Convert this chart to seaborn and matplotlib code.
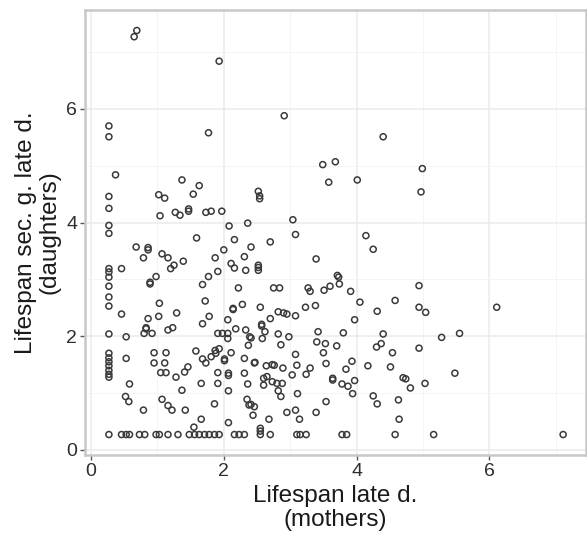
import numpy as np
import pandas as pd
import matplotlib
matplotlib.use("Agg")
import matplotlib.pyplot as plt
from matplotlib.ticker import MultipleLocator
import seaborn as sns

# Lifespan after late death: mothers (x) vs. daughters (y)
mothers = [
    0.65, 0.69, 1.93, 0.27, 0.27, 1.77, 2.91, 4.40, 3.49, 3.68,
    4.99, 4.97, 4.94, 4.94, 5.04, 6.11, 5.28, 5.55, 4.94, 5.48,
    5.03, 5.16, 7.11,
    0.37, 1.37, 1.63, 1.54, 0.27, 1.02, 1.11, 0.27, 1.04, 1.27,
    1.34, 1.47, 1.47, 1.73, 1.81, 1.97, 2.36, 0.27, 0.27, 2.08,
    1.59, 2.16, 0.68, 0.86, 0.86, 2.41, 2.00, 0.79, 1.07, 1.16,
    1.87, 2.31, 1.39, 1.25, 1.20, 2.11, 2.16, 2.33, 0.27, 0.27,
    0.27, 0.46, 1.91, 1.77, 0.98, 0.89, 0.89, 1.68, 0.27, 2.22,
    0.27, 1.72, 0.27, 2.28, 2.14, 2.14, 1.03, 0.46, 0.86, 1.02,
    1.29, 1.78, 2.06,
    3.58, 4.01, 2.52, 2.54, 2.54, 3.04, 3.08, 4.14, 2.70, 4.25,
    3.39, 2.52, 2.52, 2.52, 3.71, 3.73, 3.74, 3.60, 2.75, 2.84,
    3.27, 3.30, 3.51, 3.91, 4.05, 4.58, 2.55, 3.23, 3.38, 4.31,
    2.82, 2.90, 2.95, 3.08, 2.70, 3.97,
    1.68, 2.18, 2.33, 0.83, 0.83, 0.80, 0.92, 1.16, 1.23, 0.27,
    0.53, 1.91, 1.98, 2.06, 2.06, 2.39, 2.37,
    0.27, 0.27, 0.27, 0.27, 0.27, 0.27, 0.27,
    0.53, 0.95, 1.13, 0.95, 1.11, 1.05, 1.13, 1.28, 1.58, 1.68,
    1.73, 1.81, 1.87, 1.93, 1.88, 1.46, 1.41, 2.01, 2.01, 2.11,
    2.31, 2.46, 1.91, 2.07, 2.07, 2.31, 0.58, 1.66, 1.91, 2.36,
    1.37, 2.07, 0.52, 0.57, 1.07, 1.16, 1.22, 0.79, 1.42, 1.86,
    2.35, 2.38, 1.66, 2.07, 1.55,
    0.27, 0.46, 0.53, 0.58, 0.73, 0.81, 0.98, 1.03, 1.16, 1.31,
    1.48, 1.56, 1.63, 1.71, 1.78, 1.86, 1.93, 2.16, 2.23, 2.31,
    2.57, 2.57, 2.41, 2.58, 2.62, 2.82, 2.98, 2.86, 3.42, 3.80,
    3.40, 3.53, 3.70, 4.40, 4.37, 4.30, 3.50, 3.08, 4.54, 2.47,
    2.64, 2.73, 2.76, 2.89, 3.10, 3.30, 3.54, 3.93, 3.84, 4.17,
    4.51, 3.03, 3.24, 2.60, 2.65, 2.60, 2.73, 2.80, 2.88, 3.64,
    3.64, 3.78, 3.87, 3.97, 3.94, 4.70, 4.74, 4.81, 2.82, 2.86,
    3.11, 4.25, 4.31, 4.63, 3.54, 2.41, 2.46, 2.44, 2.95, 3.08,
    3.14, 3.39, 2.68, 4.64, 2.55, 2.55,
    2.55, 2.70, 3.10, 3.15, 3.24, 3.78, 3.85, 4.58,
]
daughters = [
    7.27, 7.38, 6.84, 5.70, 5.51, 5.58, 5.88, 5.51, 5.02, 5.07,
    4.95, 4.54, 2.89, 2.51, 2.42, 2.51, 1.98, 2.05, 1.79, 1.35,
    1.17, 0.27, 0.27,
    4.84, 4.75, 4.65, 4.50, 4.46, 4.49, 4.43, 4.25, 4.12, 4.18,
    4.13, 4.24, 4.20, 4.18, 4.20, 4.20, 3.99, 3.95, 3.81, 3.94,
    3.73, 3.70, 3.57, 3.56, 3.52, 3.57, 3.52, 3.38, 3.45, 3.38,
    3.38, 3.40, 3.32, 3.25, 3.19, 3.28, 3.20, 3.16, 3.19, 3.13,
    3.04, 3.19, 3.14, 3.05, 3.05, 2.95, 2.92, 2.91, 2.88, 2.85,
    2.69, 2.62, 2.53, 2.56, 2.49, 2.47, 2.58, 2.39, 2.31, 2.35,
    2.41, 2.35, 2.29,
    4.71, 4.75, 4.55, 4.47, 4.42, 4.05, 3.79, 3.77, 3.66, 3.53,
    3.36, 3.25, 3.21, 3.16, 3.07, 3.04, 2.92, 2.88, 2.85, 2.85,
    2.85, 2.79, 2.81, 2.79, 2.60, 2.63, 2.51, 2.51, 2.54, 2.44,
    2.43, 2.41, 2.39, 2.36, 2.31, 2.29,
    2.22, 2.13, 2.11, 2.13, 2.15, 2.05, 2.05, 2.11, 2.15, 2.04,
    1.99, 2.05, 2.05, 2.05, 1.96, 1.99, 1.84,
    1.70, 1.62, 1.55, 1.48, 1.40, 1.33, 1.28,
    1.61, 1.71, 1.71, 1.53, 1.53, 1.36, 1.36, 1.28, 1.74, 1.60,
    1.53, 1.64, 1.75, 1.78, 1.70, 1.46, 1.37, 1.57, 1.60, 1.71,
    1.61, 1.53, 1.36, 1.35, 1.31, 1.35, 1.16, 1.17, 1.17, 1.16,
    1.05, 1.04, 0.94, 0.85, 0.89, 0.78, 0.70, 0.70, 0.70, 0.81,
    0.89, 0.79, 0.54, 0.48, 0.40,
    0.27, 0.27, 0.27, 0.27, 0.27, 0.27, 0.27, 0.27, 0.27, 0.27,
    0.27, 0.27, 0.27, 0.27, 0.27, 0.27, 0.27, 0.27, 0.27, 0.27,
    2.21, 2.18, 1.97, 1.96, 2.08, 2.04, 1.99, 1.85, 2.08, 2.06,
    1.90, 1.87, 1.83, 2.04, 1.87, 1.81, 1.71, 1.68, 1.71, 1.54,
    1.48, 1.50, 1.49, 1.44, 1.49, 1.44, 1.52, 1.56, 1.42, 1.48,
    1.46, 1.32, 1.33, 1.26, 1.29, 1.14, 1.20, 1.17, 1.17, 1.26,
    1.23, 1.16, 1.12, 1.22, 0.99, 1.27, 1.25, 1.09, 1.04, 0.94,
    0.99, 0.95, 0.81, 0.88, 0.85, 0.80, 0.76, 0.61, 0.66, 0.70,
    0.54, 0.66, 0.54, 0.54, 0.38, 0.33,
    0.27, 0.27, 0.27, 0.27, 0.27, 0.27, 0.27, 0.27,
]

x_ticks = [0, 2, 4, 6]
y_ticks = [0, 2, 4, 6]
x_title = "Lifespan late d.\n(mothers)"
y_title = "Lifespan sec. g. late d.\n(daughters)"

df = pd.DataFrame({"mothers": mothers, "daughters": daughters})

sns.set_theme(style="white")
plt.rcParams["font.family"] = ["Liberation Sans", "DejaVu Sans"]

fig = plt.figure(figsize=(5.87, 5.42), dpi=100)
ax = fig.add_axes([0.1448, 0.1605, 0.853, 0.821])

sns.scatterplot(
    data=df, x="mothers", y="daughters", ax=ax,
    marker="o", s=19, facecolors="none", edgecolor="#3a3a3a",
    linewidth=1.1, legend=False,
)

ax.set_xlim(-0.09, 7.45)
ax.set_ylim(-0.09, 7.74)
ax.set_xticks(x_ticks)
ax.set_yticks(y_ticks)
ax.xaxis.set_minor_locator(MultipleLocator(1))
ax.yaxis.set_minor_locator(MultipleLocator(1))

ax.grid(which="major", color="#ebebeb", linewidth=1.1)
ax.grid(which="minor", color="#f3f3f3", linewidth=0.6)
ax.set_axisbelow(True)

for sp in ax.spines.values():
    sp.set_color("#c8c8c8")
    sp.set_linewidth(1.8)

ax.tick_params(axis="both", which="major", length=3.5, width=1.0,
               color="#555555", labelsize=14, labelcolor="#2e2e2e", pad=2,
               bottom=True, left=True)
ax.tick_params(axis="both", which="minor", length=0)

ax.set_xlabel(x_title, fontsize=17.5, color="#1a1a1a", labelpad=4, linespacing=1.1)
ax.set_ylabel(y_title, fontsize=17.5, color="#1a1a1a", labelpad=4, linespacing=1.1)

fig.savefig("out.png", dpi=100)
